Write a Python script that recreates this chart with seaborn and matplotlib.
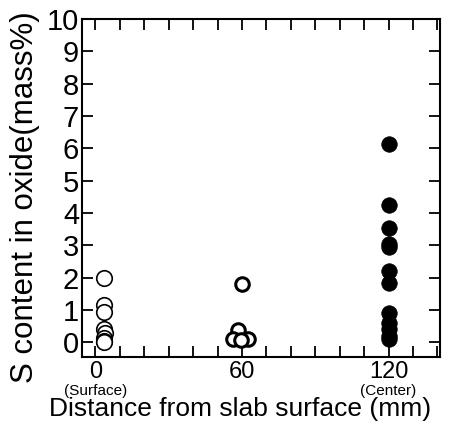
import matplotlib
matplotlib.use("Agg")
import matplotlib.pyplot as plt
import seaborn as sns
import pandas as pd
from matplotlib.ticker import MultipleLocator, FixedLocator
import matplotlib.transforms as mtransforms

sns.set_style("ticks")
plt.rcParams['font.family'] = ['Liberation Sans', 'DejaVu Sans']
plt.rcParams['text.color'] = 'black'
plt.rcParams['axes.labelcolor'] = 'black'
plt.rcParams['xtick.color'] = 'black'
plt.rcParams['ytick.color'] = 'black'
plt.rcParams['axes.edgecolor'] = 'black'

# Data
surface_x = [3.5, 3.5, 3.5, 3.5, 4.0, 3.5, 3.5, 3.5]
surface_y = [2.0, 1.15, 0.93, 0.43, 0.28, 0.15, 0.05, 0.0]
mid_x = [60.0, 58.5, 56.5, 62.5, 59.5]
mid_y = [1.8, 0.37, 0.12, 0.12, 0.06]
center_x = [120] * 12
center_y = [6.15, 4.25, 3.55, 3.05, 2.95, 2.2, 1.85, 0.9, 0.6, 0.4, 0.2, 0.1]

xtick_vals = [0, 60, 120]
xtick_labels = ["0", "60", "120"]
xtick_sub = ["(Surface)", "", "(Center)"]
ytick_vals = list(range(0, 11))

surf_df = pd.DataFrame({"x": surface_x, "y": surface_y})
mid_df = pd.DataFrame({"x": mid_x, "y": mid_y})
fill_df = pd.DataFrame({"x": center_x, "y": center_y})

fig = plt.figure(figsize=(4.75, 4.3), dpi=100)
ax = fig.add_axes([0.1726, 0.1698, 0.7535, 0.786])

sns.scatterplot(data=surf_df, x="x", y="y", ax=ax, s=125, marker="o",
                facecolor="white", edgecolor="black", linewidth=1.2, zorder=3)
sns.scatterplot(data=mid_df, x="x", y="y", ax=ax, s=95, marker="o",
                facecolor="white", edgecolor="black", linewidth=2.2, zorder=3)
sns.scatterplot(data=fill_df, x="x", y="y", ax=ax, s=125, marker="o",
                color="black", edgecolor="black", linewidth=0.5, zorder=3)

ax.set_xlim(-5.5, 141)
ax.set_ylim(-0.45, 10)

ax.xaxis.set_major_locator(FixedLocator(xtick_vals))
ax.set_xticklabels(xtick_labels)
ax.xaxis.set_minor_locator(MultipleLocator(10))
ax.yaxis.set_major_locator(FixedLocator(ytick_vals))
ax.set_yticklabels([str(v) for v in ytick_vals])

ax.tick_params(axis='both', which='both', direction='in', top=True, right=True,
               width=1.3, color='black', labelcolor='black')
ax.tick_params(axis='both', which='major', length=8)
ax.tick_params(axis='both', which='minor', length=8)
ax.tick_params(axis='y', which='major', labelsize=21, pad=2)
ax.tick_params(axis='x', which='major', labelsize=17, pad=3)

for sp in ax.spines.values():
    sp.set_linewidth(1.5)
    sp.set_color('black')

trans = mtransforms.blended_transform_factory(ax.transData, ax.transAxes)
for xv, sub in zip(xtick_vals, xtick_sub):
    if sub:
        ax.text(xv, -0.08, sub, transform=trans, ha='center', va='top',
                fontsize=11, color='black')

ax.set_xlabel("Distance from slab surface (mm)", fontsize=19, va='top', color='black')
ax.xaxis.set_label_coords(0.441, -0.118)
ax.set_ylabel("S content in oxide(mass%)", fontsize=22.5, color='black')
ax.yaxis.set_label_coords(-0.118, 0.473)

fig.savefig("out.png", dpi=100)
